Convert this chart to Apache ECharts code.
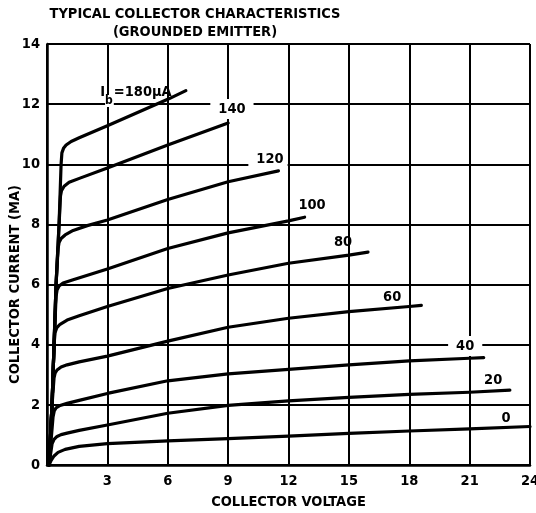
<!DOCTYPE html>
<html>
<head>
<meta charset="utf-8">
<script src="https://cdn.jsdelivr.net/npm/echarts@6/dist/echarts.min.js"></script>
<style>
  html, body { margin: 0; padding: 0; background: #fff; }
  #chart { width: 536px; height: 513px; }
</style>
</head>
<body>
<div id="chart"></div>
<script>
// ---- Data (collector voltage V, collector current mA) ----
const xTickValues = [0, 3, 6, 9, 12, 15, 18, 21, 24];
const yTickValues = [0, 2, 4, 6, 8, 10, 12, 14];

const curve0   = [[0.1,0],[0.2,0.15],[0.35,0.3],[0.55,0.42],[0.9,0.52],[1.6,0.62],[3,0.71],[6,0.8],[9,0.88],[12,0.96],[15,1.05],[18,1.13],[21,1.2],[24,1.28]];
const curve20  = [[0.1,0],[0.25,0.7],[0.35,0.85],[0.5,0.95],[0.7,1.01],[1.0,1.06],[1.6,1.15],[3,1.33],[6,1.72],[9,1.98],[12,2.13],[15,2.25],[18,2.35],[21,2.42],[23,2.49]];
const curve40  = [[0.1,0],[0.3,1.6],[0.36,1.8],[0.45,1.9],[0.65,1.98],[1.0,2.05],[1.6,2.15],[3,2.38],[6,2.8],[9,3.03],[12,3.18],[15,3.33],[18,3.46],[21,3.55],[21.7,3.57]];
const curve60  = [[0.1,0],[0.25,2],[0.35,2.9],[0.4,3.05],[0.5,3.16],[0.7,3.26],[1.0,3.33],[1.6,3.43],[3,3.62],[6,4.12],[9,4.58],[12,4.88],[15,5.1],[18,5.27],[18.6,5.31]];
const curve80  = [[0.1,0],[0.25,2],[0.35,4],[0.4,4.4],[0.48,4.56],[0.65,4.68],[1.0,4.82],[1.6,4.96],[3,5.27],[6,5.87],[9,6.32],[12,6.71],[15,6.98],[15.95,7.08]];
const curve100 = [[0.1,0],[0.25,2],[0.35,4],[0.45,5.6],[0.5,5.82],[0.6,5.95],[0.8,6.05],[1.3,6.16],[3,6.52],[6,7.2],[9,7.72],[12,8.12],[12.8,8.24]];
const curve120 = [[0.1,0],[0.25,2],[0.35,4],[0.45,6],[0.55,7.2],[0.6,7.4],[0.7,7.53],[0.9,7.65],[1.3,7.8],[2,7.96],[3,8.15],[6,8.83],[9,9.42],[11.5,9.78]];
const curve140 = [[0.1,0],[0.25,2],[0.35,4],[0.45,6],[0.6,8],[0.67,8.95],[0.72,9.12],[0.85,9.27],[1.1,9.4],[1.64,9.54],[3,9.88],[6,10.64],[9,11.37]];
const curve180 = [[0.1,0],[0.25,2],[0.35,4],[0.45,6],[0.6,8],[0.7,10],[0.74,10.38],[0.82,10.53],[0.95,10.64],[1.2,10.76],[1.6,10.88],[3,11.28],[6,12.16],[6.9,12.45]];

const curveNames = ['0','20','40','60','80','100','120','140','180'];
const curves = [curve0, curve20, curve40, curve60, curve80, curve100, curve120, curve140, curve180];

// Curve annotation labels (text and their data-space anchor)
const labelText = ['0','20','40','60','80','100','120','140','Ib=180μA'];
const labelV    = [22.81, 22.17, 20.78, 17.15, 14.71, 13.17, 10.98, 9.19, 4.37];
const labelI    = [1.56, 2.81, 3.96, 5.57, 7.42, 8.63, 10.18, 11.84, 12.27];

const titleText = 'TYPICAL COLLECTOR CHARACTERISTICS';
const subTitleText = '(GROUNDED EMITTER)';
const xName = 'COLLECTOR VOLTAGE';
const yName = 'COLLECTOR CURRENT (MA)';

// ---- Chart ----
const FONT = "'Liberation Sans Narrow', 'DejaVu Sans Condensed', 'Liberation Sans', sans-serif";
const chart = echarts.init(document.getElementById('chart'), null, { renderer: 'canvas' });

const labelBoxPadding = { '40': [3, 8, 2, 8], '120': [3, 4, 2, 8], '140': [3, 8, 2, 8] };

const lineSeries = curves.map((c, i) => ({
  name: 'Ib=' + curveNames[i] + 'μA',
  type: 'line',
  data: c,
  showSymbol: false,
  symbol: 'none',
  smooth: false,
  clip: false,
  lineStyle: { color: '#000', width: 3.2, join: 'round', cap: 'round' },
  z: 3
}));

const labelData = labelText.map((t, i) => {
  const isIb = t.indexOf('Ib') === 0;
  const item = { value: [labelV[i], labelI[i]], name: t };
  if (isIb) {
    item.label = { formatter: '{i|I}{b|b}{t|' + t.slice(2) + '}' };
  } else if (labelBoxPadding[t]) {
    item.label = { backgroundColor: '#fff', padding: labelBoxPadding[t] };
  }
  return item;
});

const option = {
  backgroundColor: '#fff',
  animation: false,
  title: [
    { text: titleText, left: 190, top: 2, textAlign: 'center',
      textStyle: { fontFamily: FONT, fontWeight: 'bold', fontSize: 14.5, color: '#000' } },
    { text: subTitleText, left: 190, top: 20, textAlign: 'center',
      textStyle: { fontFamily: FONT, fontWeight: 'bold', fontSize: 14.5, color: '#000' } }
  ],
  grid: { left: 47, right: 6, top: 44, bottom: 48, containLabel: false, outerBoundsMode: 'none' },
  xAxis: {
    type: 'value',
    min: xTickValues[0], max: xTickValues[xTickValues.length - 1],
    interval: xTickValues[1] - xTickValues[0],
    name: xName, nameLocation: 'middle', nameGap: 30, nameMoveOverlap: false,
    nameTextStyle: { fontFamily: FONT, fontWeight: 'bold', fontSize: 14.5, color: '#000' },
    axisLine: { show: true, lineStyle: { color: '#000', width: 2.5 } },
    axisTick: { show: false },
    axisLabel: { margin: 9, fontFamily: FONT, fontWeight: 'bold', fontSize: 14.5, color: '#000',
      formatter: v => v === 0 ? '' : String(v) },
    splitLine: { show: true, lineStyle: { color: '#000', width: 2 } }
  },
  yAxis: {
    type: 'value',
    min: yTickValues[0], max: yTickValues[yTickValues.length - 1],
    interval: yTickValues[1] - yTickValues[0],
    name: yName, nameLocation: 'middle', nameGap: 24, nameMoveOverlap: false,
    nameTextStyle: { fontFamily: FONT, fontWeight: 'bold', fontSize: 14.5, color: '#000', padding: [0, 60, 0, 0] },
    axisLine: { show: true, lineStyle: { color: '#000', width: 2.5 } },
    axisTick: { show: false },
    axisLabel: { margin: 7, fontFamily: FONT, fontWeight: 'bold', fontSize: 14.5, color: '#000' },
    splitLine: { show: true, lineStyle: { color: '#000', width: 2 } }
  },
  series: lineSeries.concat([{
    name: 'curve labels',
    type: 'scatter',
    data: labelData,
    symbolSize: 0,
    silent: true,
    z: 5,
    itemStyle: { opacity: 1 },
    label: {
      show: true,
      position: 'inside',
      formatter: p => p.name,
      fontFamily: FONT, fontWeight: 'bold', fontSize: 14.5, color: '#000',
      rich: {
        i: { fontFamily: FONT, fontWeight: 'bold', fontSize: 14.5, color: '#000', backgroundColor: '#fff',
             lineHeight: 22, verticalAlign: 'top', padding: [0, 0, 0, 2] },
        b: { fontFamily: FONT, fontWeight: 'bold', fontSize: 12, color: '#000', backgroundColor: '#fff',
             lineHeight: 22, verticalAlign: 'bottom', padding: [0, 1, 0, 0] },
        t: { fontFamily: FONT, fontWeight: 'bold', fontSize: 14.5, color: '#000',
             lineHeight: 22, verticalAlign: 'top' }
      }
    }
  }])
};
chart.setOption(option);
</script>
</body>
</html>
